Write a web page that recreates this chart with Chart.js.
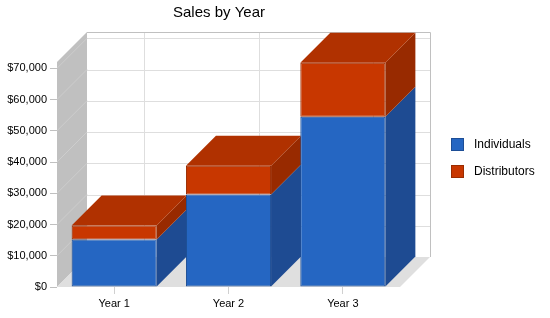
<!DOCTYPE html>
<html>
<head>
<meta charset="utf-8">
<title>Sales by Year</title>
<script src="https://cdn.jsdelivr.net/npm/chart.js@4"></script>
<style>
  html, body { margin: 0; padding: 0; background: #fff; }
  #wrap { width: 550px; height: 318px; }
</style>
</head>
<body>
<div id="wrap"><canvas id="salesChart" width="550" height="318"></canvas></div>
<script>
const years = ["Year 1", "Year 2", "Year 3"];
const individuals = [15200, 29600, 54500];
const distributors = [4500, 9200, 17300];
const seriesNames = ["Individuals", "Distributors"];
const yTicks = [0, 10000, 20000, 30000, 40000, 50000, 60000, 70000];
const yMax = 72000;

const DEPTH = 30; // 3d offset, px
const FONT = "'Liberation Sans', Arial, sans-serif";

const colors = {
    Individuals: { front: "#2566c2", side: "#1e4b92", top: "#1f56a8", border: "#1d4e96" },
    Distributors: { front: "#c83700", side: "#982a00", top: "#b03100", border: "#9a2c00" }
};

function poly(ctx, pts, fill) {
    ctx.beginPath();
    ctx.moveTo(pts[0][0], pts[0][1]);
    for (let i = 1; i < pts.length; i++) ctx.lineTo(pts[i][0], pts[i][1]);
    ctx.closePath();
    ctx.fillStyle = fill;
    ctx.fill();
}

// walls, floor, back grid and the sides/tops of the bars
const box3d = {
    id: "box3d",
    beforeDatasetsDraw(chart) {
        const { ctx, chartArea: a, scales: { x, y } } = chart;
        const D = DEPTH;
        const bottom = y.getPixelForValue(0);
        const top = y.getPixelForValue(yMax);
        const L = a.left, R = a.right;

        ctx.save();
        // back wall
        ctx.fillStyle = "#fff";
        ctx.fillRect(L + D, top - D, R - L, bottom - top);
        ctx.lineWidth = 1;
        ctx.strokeStyle = "#dedede";
        y.ticks.forEach(t => {
            if (t.value === 0) return;
            const py = Math.round(y.getPixelForValue(t.value) - D) + 0.5;
            ctx.beginPath();
            ctx.moveTo(L + D, py);
            ctx.lineTo(R + D, py);
            ctx.stroke();
        });
        x.ticks.forEach((t, i) => {
            const px = Math.round(x.getPixelForTick(i) + D) + 0.5;
            ctx.beginPath();
            ctx.moveTo(px, top - D);
            ctx.lineTo(px, bottom - D);
            ctx.stroke();
        });
        ctx.strokeStyle = "#c0c0c0";
        ctx.beginPath();
        ctx.moveTo(L + D, Math.round(top - D) + 0.5);
        ctx.lineTo(Math.round(R + D) + 0.5, Math.round(top - D) + 0.5);
        ctx.lineTo(Math.round(R + D) + 0.5, bottom - D);
        ctx.stroke();

        // left wall
        poly(ctx, [[L, top], [L + D, top - D], [L + D, bottom - D], [L, bottom]], "#c0c0c0");
        ctx.strokeStyle = "#cdcdcd";
        y.ticks.forEach(t => {
            if (t.value === 0) return;
            const py = y.getPixelForValue(t.value);
            ctx.beginPath();
            ctx.moveTo(L, py);
            ctx.lineTo(L + D, py - D);
            ctx.stroke();
        });

        // floor
        poly(ctx, [[L, bottom], [L + D, bottom - D], [R + D, bottom - D], [R, bottom]], "#dfdfdf");

        // bar sides and tops
        const last = chart.data.datasets.length - 1;
        chart.data.datasets.forEach((ds, di) => {
            const c = colors[ds.label];
            chart.getDatasetMeta(di).data.forEach(bar => {
                const p = bar.getProps(["x", "y", "base", "width"], true);
                const l = p.x - p.width / 2, r = p.x + p.width / 2;
                const t = Math.min(p.y, p.base), b = Math.max(p.y, p.base);
                poly(ctx, [[r, t], [r + D, t - D], [r + D, b - D], [r, b]], c.side);
                if (di === last) {
                    poly(ctx, [[l, t], [l + D, t - D], [r + D, t - D], [r, t]], c.top);
                }
            });
        });
        ctx.restore();
    },
    afterDraw(chart) {
        const ctx = chart.ctx;
        ctx.save();
        // title
        ctx.fillStyle = "#000";
        ctx.font = "15px " + FONT;
        ctx.textAlign = "center";
        ctx.textBaseline = "middle";
        ctx.fillText("Sales by Year", 219, 13);

        // legend
        ctx.font = "12px " + FONT;
        ctx.textAlign = "left";
        seriesNames.forEach((name, i) => {
            const c = colors[name];
            const by = 138 + i * 27;
            ctx.fillStyle = c.front;
            ctx.fillRect(451, by, 13, 13);
            ctx.strokeStyle = c.border;
            ctx.lineWidth = 1;
            ctx.strokeRect(451.5, by + 0.5, 12, 12);
            ctx.fillStyle = "#000";
            ctx.fillText(name, 474, by + 7);
        });
        ctx.restore();
    }
};

Chart.defaults.font.family = FONT;
Chart.defaults.font.size = 11;
Chart.defaults.color = "#000";

const ctx = document.getElementById("salesChart").getContext("2d");
new Chart(ctx, {
    type: "bar",
    data: {
        labels: years,
        datasets: [
            {
                label: seriesNames[0],
                data: individuals,
                backgroundColor: colors.Individuals.front,
                borderColor: colors.Individuals.border,
                borderWidth: 1,
                borderSkipped: false
            },
            {
                label: seriesNames[1],
                data: distributors,
                backgroundColor: colors.Distributors.front,
                borderColor: colors.Distributors.border,
                borderWidth: 1,
                borderSkipped: false
            }
        ]
    },
    options: {
        responsive: false,
        animation: false,
        categoryPercentage: 1,
        barPercentage: 0.744,
        layout: { padding: { top: 62, right: 150, left: 0, bottom: 0 } },
        plugins: {
            legend: { display: false },
            title: { display: false },
            tooltip: { enabled: false }
        },
        scales: {
            x: {
                stacked: true,
                afterFit: s => { s.height = 31; },
                border: { display: false },
                grid: { offset: false, drawOnChartArea: false, tickLength: 7, color: "#d0d0d0" },
                ticks: { padding: 3 }
            },
            y: {
                stacked: true,
                min: 0,
                max: yMax,
                afterFit: s => { s.width = 57; },
                afterBuildTicks: s => { s.ticks = yTicks.map(v => ({ value: v })); },
                border: { display: false },
                grid: { drawOnChartArea: false, tickLength: 7, color: "#c0c0c0" },
                ticks: {
                    autoSkip: false,
                    padding: 3,
                    callback: v => "$" + Number(v).toLocaleString("en-US")
                }
            }
        }
    },
    plugins: [box3d]
});
</script>
</body>
</html>
